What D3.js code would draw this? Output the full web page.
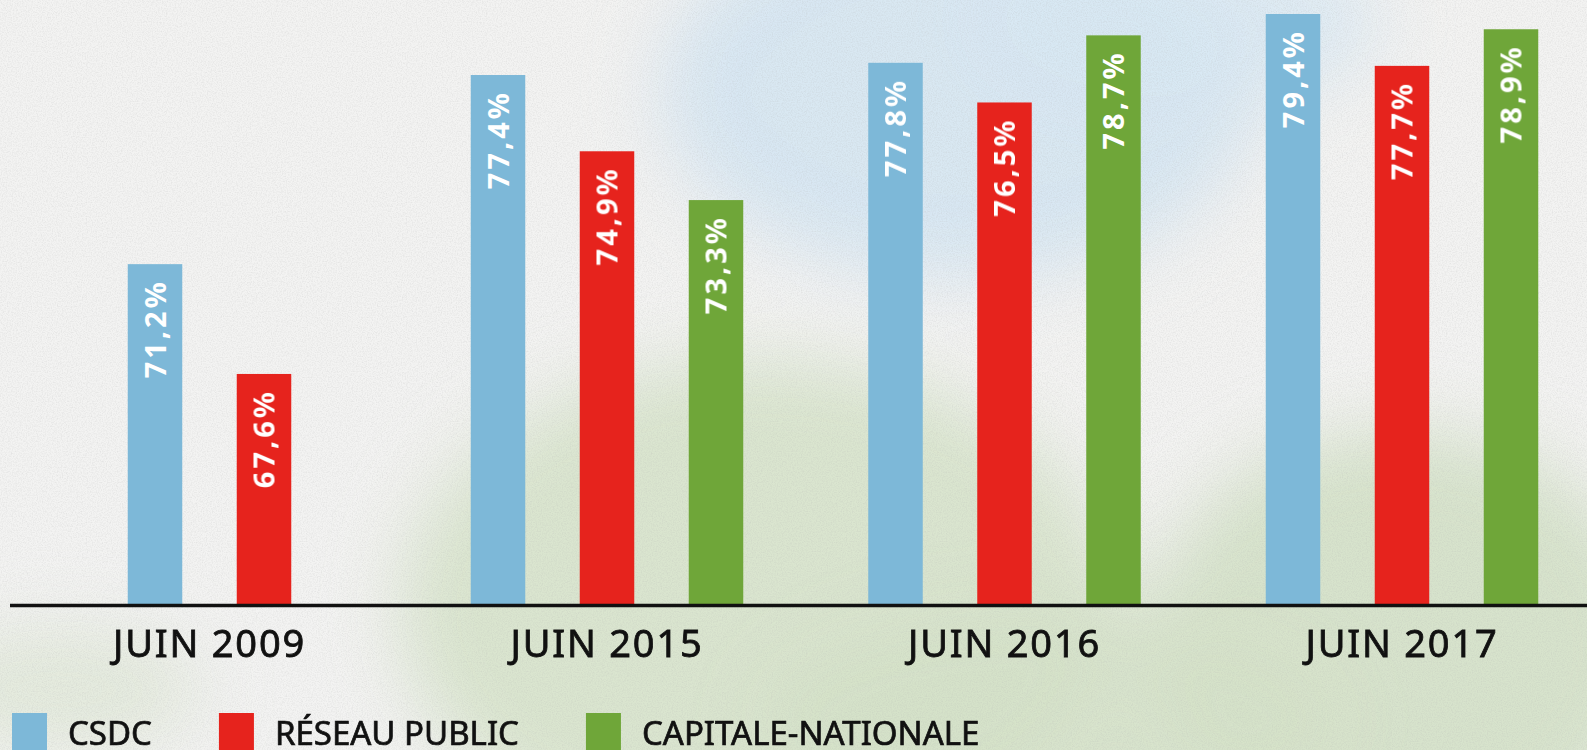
<!DOCTYPE html>
<html>
<head>
<meta charset="utf-8">
<script src="https://cdn.jsdelivr.net/npm/d3@7"></script>
<style>
  body { margin: 0; overflow: hidden; background: #f1f1f0; }
</style>
</head>
<body>
<div id="chart"></div>
<script>
let w = 1587;
let h = 750;

// data
let periods = ["JUIN 2009", "JUIN 2015", "JUIN 2016", "JUIN 2017"];
let seriesNames = ["CSDC", "RÉSEAU PUBLIC", "CAPITALE-NATIONALE"];
let seriesColors = ["#7db8d8", "#e6231d", "#6fa639"];
let csdcValues = [71.2, 77.4, 77.8, 79.4];
let reseauValues = [67.6, 74.9, 76.5, 77.7];
let capitaleValues = [null, 73.3, 78.7, 78.9]; // no value for 2009

let allValues = [csdcValues, reseauValues, capitaleValues];

// one entry per period, only the series that have a value
let groups = periods.map(function(p, i){
  let bars = [];
  seriesNames.forEach(function(s, j){
    if (allValues[j][i] != null) {
      bars.push({ series: s, value: allValues[j][i], color: seriesColors[j] });
    }
  });
  return { period: p, bars: bars };
});

let svg = d3.select("#chart").append("svg")
    .attr("width", w)
    .attr("height", h);

// ---- paper background with watercolor washes ----
let defs = svg.append("defs");
let blur = defs.append("filter").attr("id", "wash")
    .attr("x", "-50%").attr("y", "-50%").attr("width", "200%").attr("height", "200%");
blur.append("feGaussianBlur").attr("stdDeviation", 35);

let grain = defs.append("filter").attr("id", "grain");
grain.append("feTurbulence")
    .attr("type", "fractalNoise")
    .attr("baseFrequency", 0.8)
    .attr("numOctaves", 2)
    .attr("seed", 4);
grain.append("feColorMatrix")
    .attr("values", "0 0 0 0 0.45  0 0 0 0 0.45  0 0 0 0 0.45  0 0 0 -1.6 0.95");

svg.append("rect").attr("width", w).attr("height", h).attr("fill", "#f3f3f2");

let washes = svg.append("g").attr("filter", "url(#wash)");
// blue wash at the top
washes.append("ellipse").attr("cx", 960).attr("cy", 90).attr("rx", 300).attr("ry", 190)
    .attr("fill", "#d3e5f2").attr("opacity", 0.85);
washes.append("ellipse").attr("cx", 1180).attr("cy", 20).attr("rx", 200).attr("ry", 90)
    .attr("fill", "#d8e8f4").attr("opacity", 0.8);
// green wash at the bottom
washes.append("ellipse").attr("cx", 760).attr("cy", 610).attr("rx", 360).attr("ry", 250)
    .attr("fill", "#d7e3cb").attr("opacity", 0.9);
washes.append("ellipse").attr("cx", 1400).attr("cy", 650).attr("rx", 260).attr("ry", 220)
    .attr("fill", "#d4e1c8").attr("opacity", 0.9);
washes.append("ellipse").attr("cx", 1050).attr("cy", 720).attr("rx", 300).attr("ry", 120)
    .attr("fill", "#d5e2c9").attr("opacity", 0.9);
washes.append("ellipse").attr("cx", 60).attr("cy", 690).attr("rx", 140).attr("ry", 60)
    .attr("fill", "#dee7d6").attr("opacity", 0.8);

svg.append("rect").attr("width", w).attr("height", h)
    .attr("filter", "url(#grain)").attr("opacity", 0.3);

// ---- scales ----
let x0 = d3.scaleBand()
    .domain(periods)
    .range([10.75, 1600.75]);

let barStep = 109;

let y = d3.scaleLinear()
    .domain([60, 80])
    .range([605.8, -4.3]);

// ---- bars ----
let groupEls = svg.selectAll(".group").data(groups)
  .enter()
  .append("g")
    .attr("class", "group")
    .attr("transform", function(d){ return "translate(" + (x0(d.period) + x0.bandwidth() / 2) + ",0)"; });

groupEls.each(function(g){
  let n = g.bars.length;
  let x1 = d3.scaleBand()
      .domain(g.bars.map(function(b){ return b.series; }))
      .range([-n * barStep / 2, n * barStep / 2])
      .paddingInner(0.5)
      .paddingOuter(0.25);

  let sel = d3.select(this);

  sel.selectAll("rect").data(g.bars)
    .enter()
    .append("rect")
      .attr("x", function(d){ return x1(d.series); })
      .attr("y", function(d){ return y(d.value); })
      .attr("width", x1.bandwidth())
      .attr("height", function(d){ return y(60) - y(d.value); })
      .attr("fill", function(d){ return d.color; });

  sel.selectAll(".val").data(g.bars)
    .enter()
    .append("text")
      .attr("class", "val")
      .attr("transform", function(d){
        let cx = x1(d.series) + x1.bandwidth() / 2 + 10.5;
        return "translate(" + cx + "," + (y(d.value) + 15) + ") rotate(-90)";
      })
      .attr("text-anchor", "end")
      .attr("fill", "#ffffff")
      .style("font-family", "'Noto Sans', 'DejaVu Sans', sans-serif")
      .style("font-weight", 700)
      .style("font-size", "29px")
      .style("letter-spacing", "3px")
      .text(function(d){ return d.value.toFixed(1).replace(".", ",") + "%"; });
});

// ---- baseline and period labels ----
svg.append("line")
    .attr("x1", 10)
    .attr("x2", w)
    .attr("y1", 605.5)
    .attr("y2", 605.5)
    .attr("stroke", "#111111")
    .attr("stroke-width", 3.5);

svg.selectAll(".period").data(periods)
  .enter()
  .append("text")
    .attr("class", "period")
    .attr("x", function(d){ return x0(d) + x0.bandwidth() / 2; })
    .attr("y", 657)
    .attr("text-anchor", "middle")
    .attr("fill", "#111111")
    .attr("stroke", "#111111")
    .attr("stroke-width", 0.8)
    .style("font-family", "'Noto Sans', 'DejaVu Sans', sans-serif")
    .style("font-size", "38px")
    .style("letter-spacing", "1.8px")
    .text(function(d){ return d; });

// ---- legend ----
let legend = svg.append("g").attr("class", "legend");
let lx = 12;
seriesNames.forEach(function(s, i){
  legend.append("rect")
      .attr("x", lx)
      .attr("y", 713)
      .attr("width", 35)
      .attr("height", 40)
      .attr("fill", seriesColors[i]);

  let t = legend.append("text")
      .attr("x", lx + 56)
      .attr("y", 745)
      .attr("fill", "#111111")
      .attr("stroke", "#111111")
      .attr("stroke-width", 0.7)
      .style("font-family", "'Noto Sans', 'DejaVu Sans', sans-serif")
      .style("font-size", "33px")
      .text(s);

  let tw = t.node().getComputedTextLength();
  lx = lx + 56 + tw + 67;
});
</script>
</body>
</html>
